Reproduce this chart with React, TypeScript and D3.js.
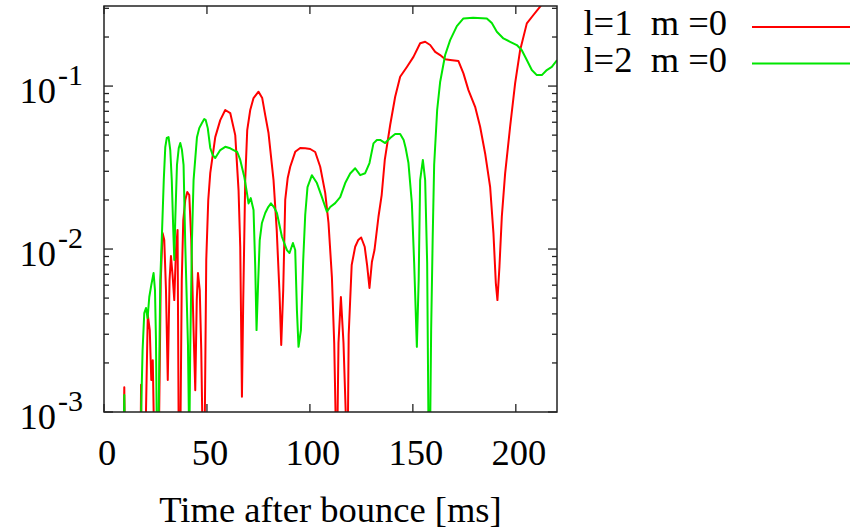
import React from "react";
import * as d3 from "d3";

// ---- data ----
const l1Time = [
  9.5, 9.85, 10.2, 17.75, 18.0, 18.25, 20.05, 21.26, 22.23, 22.96, 23.69, 24.42,
  26.6, 27.57, 28.45, 29.27, 30.1, 30.97, 31.84, 32.52, 33.3, 34.13, 34.95, 35.73,
  36.31, 37.04, 37.77, 38.5, 39.47, 40.44, 41.41, 42.38, 43.5, 44.32, 45.05, 45.63,
  46.5, 47.23, 47.96, 48.83, 49.66, 50.63, 51.6, 54.03, 56.46, 58.88, 61.31, 63.74,
  65.34, 66.17, 66.99, 67.62, 68.59, 69.56, 71.02, 72.62, 75.05, 76.84, 78.3, 79.9,
  82.33, 83.88, 85.24, 86.07, 87.04, 88.01, 89.22, 90.44, 92.86, 95.29, 97.72, 100.15,
  102.57, 105.0, 107.43, 109.03, 110.68, 111.8, 112.77, 113.25, 113.88, 115.05, 116.31, 117.96,
  118.35, 118.83, 120.29, 121.99, 123.45, 124.9, 126.6, 127.82, 128.93, 130.1, 131.36, 133.3,
  134.85, 136.36, 138.98, 141.41, 143.83, 147.09, 150.29, 153.54, 155.97, 158.4, 160.83, 163.25,
  165.68, 168.11, 172.14, 174.56, 176.99, 180.24, 182.67, 185.1, 187.52, 189.13, 190.29, 191.07,
  192.04, 193.2, 194.81, 197.23, 199.66, 202.09, 205.34, 208.54, 211.8, 215.6, 220,
];
const l1Value = [
  6e-4, 1.42e-3, 6e-4, 6e-4, 1.47e-3, 6e-4, 6e-4, 3.94e-3, 3.18e-3, 1.57e-3, 2.08e-3, 6e-4,
  6e-4, 6.46e-3, 0.01253, 0.01135, 5.6e-3, 1.57e-3, 6.46e-3, 9.06e-3, 6.92e-3, 4.86e-3, 9.86e-3, 0.0131,
  6e-4, 6e-4, 6.46e-3, 0.01507, 0.02, 0.0224, 0.02145, 0.01135, 3.18e-3, 1.36e-3, 4.86e-3, 7.13e-3,
  5.6e-3, 2.4e-3, 6e-4, 6e-4, 8.57e-3, 0.02, 0.0292, 0.0486, 0.0618, 0.0713, 0.0683, 0.05,
  0.023, 0.01028, 1.24e-3, 4.86e-3, 0.0265, 0.0537, 0.0713, 0.0844, 0.0923, 0.0844, 0.0664, 0.0515,
  0.0265, 0.0131, 5.37e-3, 2.58e-3, 5.6e-3, 0.02, 0.0273, 0.032, 0.0395, 0.0417, 0.0415, 0.0411,
  0.0394, 0.032, 0.0221, 0.01445, 6.73e-3, 2.65e-3, 6e-4, 6e-4, 2.65e-3, 5.08e-3, 2.65e-3, 6e-4,
  6e-4, 2.97e-3, 7.98e-3, 0.01033, 0.01135, 0.01177, 0.01033, 7.87e-3, 5.77e-3, 8.32e-3, 9.86e-3, 0.01578,
  0.02145, 0.0352, 0.0577, 0.086, 0.114, 0.131, 0.151, 0.183, 0.187, 0.1786, 0.162, 0.155,
  0.146, 0.1445, 0.1423, 0.1197, 0.0944, 0.0746, 0.0563, 0.0386, 0.0241, 0.01253, 6.18e-3, 4.86e-3,
  7.76e-3, 0.01578, 0.0291, 0.0563, 0.104, 0.166, 0.2425, 0.273, 0.307, 0.361, 0.417,
];

const l2Time = [
  9.5, 9.85, 10.2, 17.62, 18.74, 19.56, 20.39, 21.17, 21.99, 22.96, 24.08, 24.76,
  25.24, 25.73, 26.36, 27.33, 28.16, 29.03, 29.76, 30.49, 31.36, 32.18, 32.91, 33.64,
  34.13, 34.61, 35.44, 36.31, 37.04, 37.86, 38.64, 39.47, 40.78, 41.41, 41.89, 42.72,
  43.5, 45.15, 46.26, 47.57, 48.69, 49.42, 50.39, 51.6, 52.82, 54.03, 56.46, 58.88,
  61.31, 62.91, 64.71, 66.17, 68.11, 69.42, 70.19, 71.26, 72.62, 73.45, 74.08, 74.9,
  75.63, 76.7, 78.3, 79.76, 81.07, 82.52, 83.98, 86.41, 88.83, 90.1, 91.75, 92.86,
  93.69, 94.47, 95.63, 96.75, 97.72, 98.83, 100.97, 103.4, 105.83, 108.25, 109.85, 112.28,
  114.71, 117.14, 119.56, 121.99, 124.42, 126.84, 128.93, 130.87, 132.52, 134.13, 136.55, 138.98,
  141.41, 143.83, 145.53, 146.5, 147.86, 149.51, 150.63, 151.94, 152.82, 153.54, 154.85, 155.97,
  156.94, 157.67, 158.3, 158.88, 159.61, 160.34, 161.8, 163.25, 165.68, 168.11, 171.36, 174.56,
  179.27, 185.92, 188.35, 190.78, 193.98, 197.23, 200.49, 202.91, 205.34, 207.77, 210.19, 212.62,
  215.05, 217.48, 220.05,
];
const l2Value = [
  6e-4, 1.27e-3, 6e-4, 6e-4, 2.4e-3, 4.05e-3, 4.35e-3, 3.77e-3, 5.08e-3, 6.01e-3, 7.13e-3, 5.6e-3,
  2.77e-3, 6e-4, 6e-4, 6.46e-3, 0.01253, 0.0265, 0.0422, 0.048, 0.0486, 0.0405, 0.0265, 0.0131,
  8.57e-3, 0.01507, 0.0328, 0.0417, 0.0447, 0.0405, 0.0328, 0.01059, 2.58e-3, 6e-4, 2.51e-3, 0.01135,
  0.0265, 0.0486, 0.0552, 0.0593, 0.0628, 0.0618, 0.0552, 0.0417, 0.0377, 0.0362, 0.0405, 0.0424,
  0.0415, 0.0405, 0.0394, 0.0352, 0.0278, 0.0221, 0.01906, 0.02055, 0.01734, 7.76e-3, 3.18e-3, 6.46e-3,
  0.01135, 0.01445, 0.01663, 0.0181, 0.01906, 0.0181, 0.01663, 0.0119, 9.86e-3, 9.45e-3, 0.01089, 9.86e-3,
  4.22e-3, 2.51e-3, 3.18e-3, 8.57e-3, 0.01617, 0.024, 0.0284, 0.0254, 0.0208, 0.01694, 0.0181, 0.01914,
  0.0208, 0.0254, 0.0291, 0.0313, 0.0284, 0.0292, 0.0337, 0.0445, 0.0467, 0.0467, 0.0447, 0.048,
  0.0508, 0.0508, 0.0467, 0.0417, 0.0337, 0.01914, 8.2e-3, 2.51e-3, 6.46e-3, 0.0265, 0.0352, 0.0265,
  8.2e-3, 6e-4, 6e-4, 3.18e-3, 0.01135, 0.0328, 0.0713, 0.106, 0.155, 0.1915, 0.2335, 0.26,
  0.263, 0.26, 0.2435, 0.2155, 0.196, 0.187, 0.1786, 0.166, 0.1445, 0.1254, 0.1168, 0.1168,
  0.1254, 0.131, 0.1445,
];

const xTicks = [0, 50, 100, 150, 200];
const yDecades = [-3, -2, -1];
const xDomain = [0, 220];
const yDomain = [1e-3, 0.31];
const legendLabels = ["l=1  m =0", "l=2  m =0"];
const seriesColors = ["#ff0000", "#00e600"];
const xTitle = "Time after bounce [ms]";

// ---- layout ----
const W = 857;
const H = 529;
const L = 104;
const R = 557;
const T = 6;
const B = 412;
const FONT = "'Liberation Serif', 'Times New Roman', serif";

export default function App() {
  const x = d3.scaleLinear().domain(xDomain).range([L, R]);
  const y = d3.scaleLog().domain(yDomain).range([B, T]);

  const series = [
    { t: l1Time, v: l1Value },
    { t: l2Time, v: l2Value },
  ];
  const line = d3
    .line<[number, number]>()
    .x((d) => x(d[0]))
    .y((d) => y(d[1]));

  const minorY: number[] = [];
  yDecades.forEach((d) => {
    for (let m = 2; m <= 9; m++) {
      const val = m * Math.pow(10, d);
      if (val <= yDomain[1]) minorY.push(val);
    }
  });
  const majorY = yDecades.map((d) => Math.pow(10, d));

  return (
    <svg
      width={W}
      height={H}
      style={{ position: "absolute", left: 0, top: 0, background: "#fff" }}
      fontFamily={FONT}
    >
      <defs>
        <clipPath id="plotclip">
          <rect x={L} y={T} width={R - L} height={B - T} />
        </clipPath>
      </defs>
      <rect x={0} y={0} width={W} height={H} fill="#fff" />

      {/* curves */}
      <g clipPath="url(#plotclip)">
        {series.map((s, i) => (
          <path
            key={i}
            d={line(s.t.map((t, k) => [t, s.v[k]] as [number, number])) || ""}
            fill="none"
            stroke={seriesColors[i]}
            strokeWidth={2}
            strokeLinejoin="round"
          />
        ))}
      </g>

      {/* ticks */}
      <g stroke="#222" strokeWidth={1.3}>
        {majorY.map((v, i) => (
          <g key={"my" + i}>
            <line x1={L} x2={L + 9} y1={y(v)} y2={y(v)} />
            <line x1={R} x2={R - 9} y1={y(v)} y2={y(v)} />
          </g>
        ))}
        {minorY.map((v, i) => (
          <g key={"ny" + i}>
            <line x1={L} x2={L + 5} y1={y(v)} y2={y(v)} />
            <line x1={R} x2={R - 5} y1={y(v)} y2={y(v)} />
          </g>
        ))}
        {xTicks.map((t, i) => (
          <g key={"xt" + i}>
            <line x1={x(t)} x2={x(t)} y1={B} y2={B - 8} />
            <line x1={x(t)} x2={x(t)} y1={T} y2={T + 8} />
          </g>
        ))}
      </g>

      {/* frame */}
      <rect x={L} y={T} width={R - L} height={B - T} fill="none" stroke="#222" strokeWidth={1.5} />

      {/* y tick labels */}
      {yDecades.map((d, i) => (
        <text key={"yl" + i} x={83} y={y(Math.pow(10, d)) + 17} textAnchor="end" fontSize={36.5} fill="#000">
          10
          <tspan dx={2} dy={-17.7} fontSize={30}>
            {String(d)}
          </tspan>
        </text>
      ))}

      {/* x tick labels */}
      {xTicks.map((t, i) => (
        <text key={"xl" + i} x={x(t) + 3} y={465} textAnchor="middle" fontSize={36.5} fill="#000">
          {t}
        </text>
      ))}

      {/* x title */}
      <text x={(L + R) / 2} y={522} textAnchor="middle" fontSize={36.5} fill="#000">
        {xTitle}
      </text>

      {/* legend */}
      {legendLabels.map((lab, i) => (
        <g key={"lg" + i}>
          <text
            x={727}
            y={35 + i * 36.6}
            textAnchor="end"
            fontSize={36.5}
            fill="#000"
            style={{ whiteSpace: "pre" }}
          >
            {lab}
          </text>
          <line x1={752} x2={850} y1={27 + i * 36.6} y2={27 + i * 36.6} stroke={seriesColors[i]} strokeWidth={2} />
        </g>
      ))}
    </svg>
  );
}
